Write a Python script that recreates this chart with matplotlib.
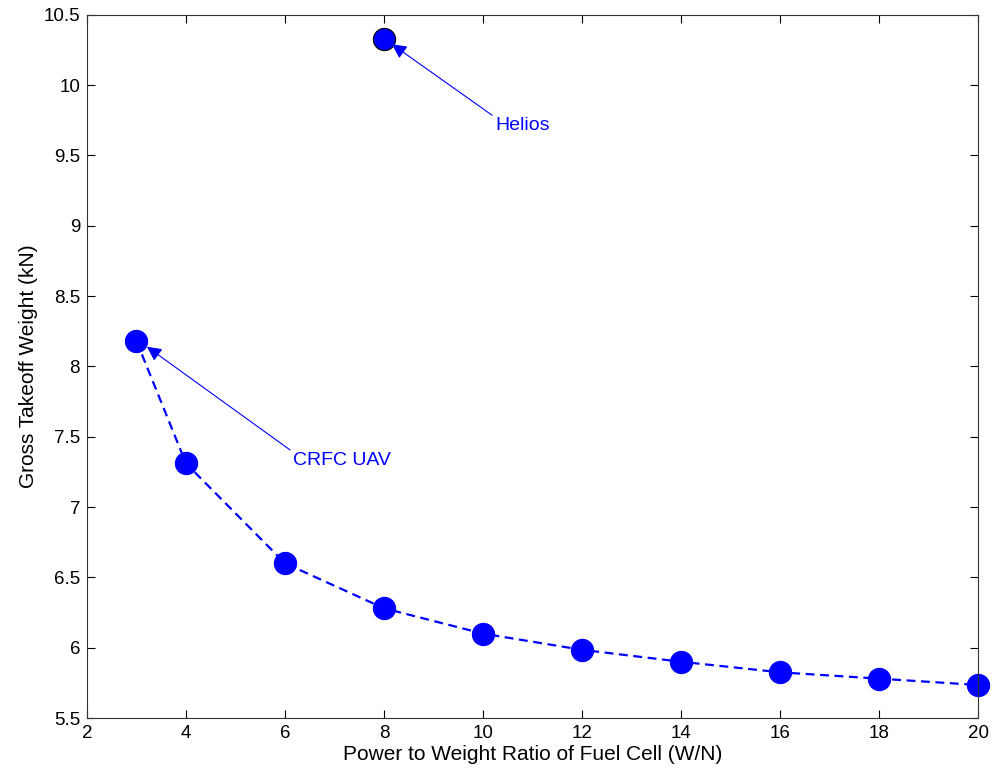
import matplotlib
matplotlib.use("Agg")
import matplotlib.pyplot as plt

plt.rcParams['font.family'] = ['Liberation Sans', 'DejaVu Sans']

pw_ratio = [3, 4, 6, 8, 10, 12, 14, 16, 18, 20]
gtow = [8.18, 7.31, 6.60, 6.28, 6.10, 5.985, 5.90, 5.825, 5.78, 5.735]
helios_x = [8]
helios_y = [10.33]

fig = plt.figure(figsize=(9.93, 7.76), dpi=100)
ax = fig.add_axes([0.0876, 0.0747, 0.8974, 0.9064])

ax.plot(pw_ratio, gtow, linestyle=(0, (4, 2.5)), color='blue', lw=1.6,
        marker='o', markersize=16, markerfacecolor='blue', markeredgecolor='blue', markeredgewidth=0.8,
        clip_on=False)
ax.plot(helios_x, helios_y, linestyle='none', color='blue',
        marker='o', markersize=16, markerfacecolor='blue', markeredgecolor='black', markeredgewidth=0.8)

ax.annotate('Helios', xy=(8.16, 10.29), xytext=(10.24, 9.65), color='blue', fontsize=14,
            ha='left', va='bottom',
            arrowprops=dict(arrowstyle='-|>', color='blue', lw=0.8, mutation_scale=22,
                            shrinkA=0, shrinkB=0, relpos=(0.0, 1.0)))
ax.annotate('CRFC UAV', xy=(3.21, 8.14), xytext=(6.16, 7.27), color='blue', fontsize=14,
            ha='left', va='bottom',
            arrowprops=dict(arrowstyle='-|>', color='blue', lw=0.8, mutation_scale=22,
                            shrinkA=0, shrinkB=0, relpos=(0.0, 1.0)))

ax.set_xlim(2, 20)
ax.set_ylim(5.5, 10.5)
ax.set_xticks([2, 4, 6, 8, 10, 12, 14, 16, 18, 20])
ax.set_yticks([5.5, 6, 6.5, 7, 7.5, 8, 8.5, 9, 9.5, 10, 10.5])
ax.set_yticklabels(['5.5', '6', '6.5', '7', '7.5', '8', '8.5', '9', '9.5', '10', '10.5'])
ax.tick_params(direction='in', top=True, right=True, labelsize=13.5, length=6, width=0.8, pad=5)
for s in ax.spines.values():
    s.set_linewidth(0.8)
    s.set_color('#333333')
ax.set_xlabel('Power to Weight Ratio of Fuel Cell (W/N)', fontsize=15, labelpad=2)
ax.set_ylabel('Gross Takeoff Weight (kN)', fontsize=15, labelpad=4)

fig.savefig('out.png', dpi=100)
